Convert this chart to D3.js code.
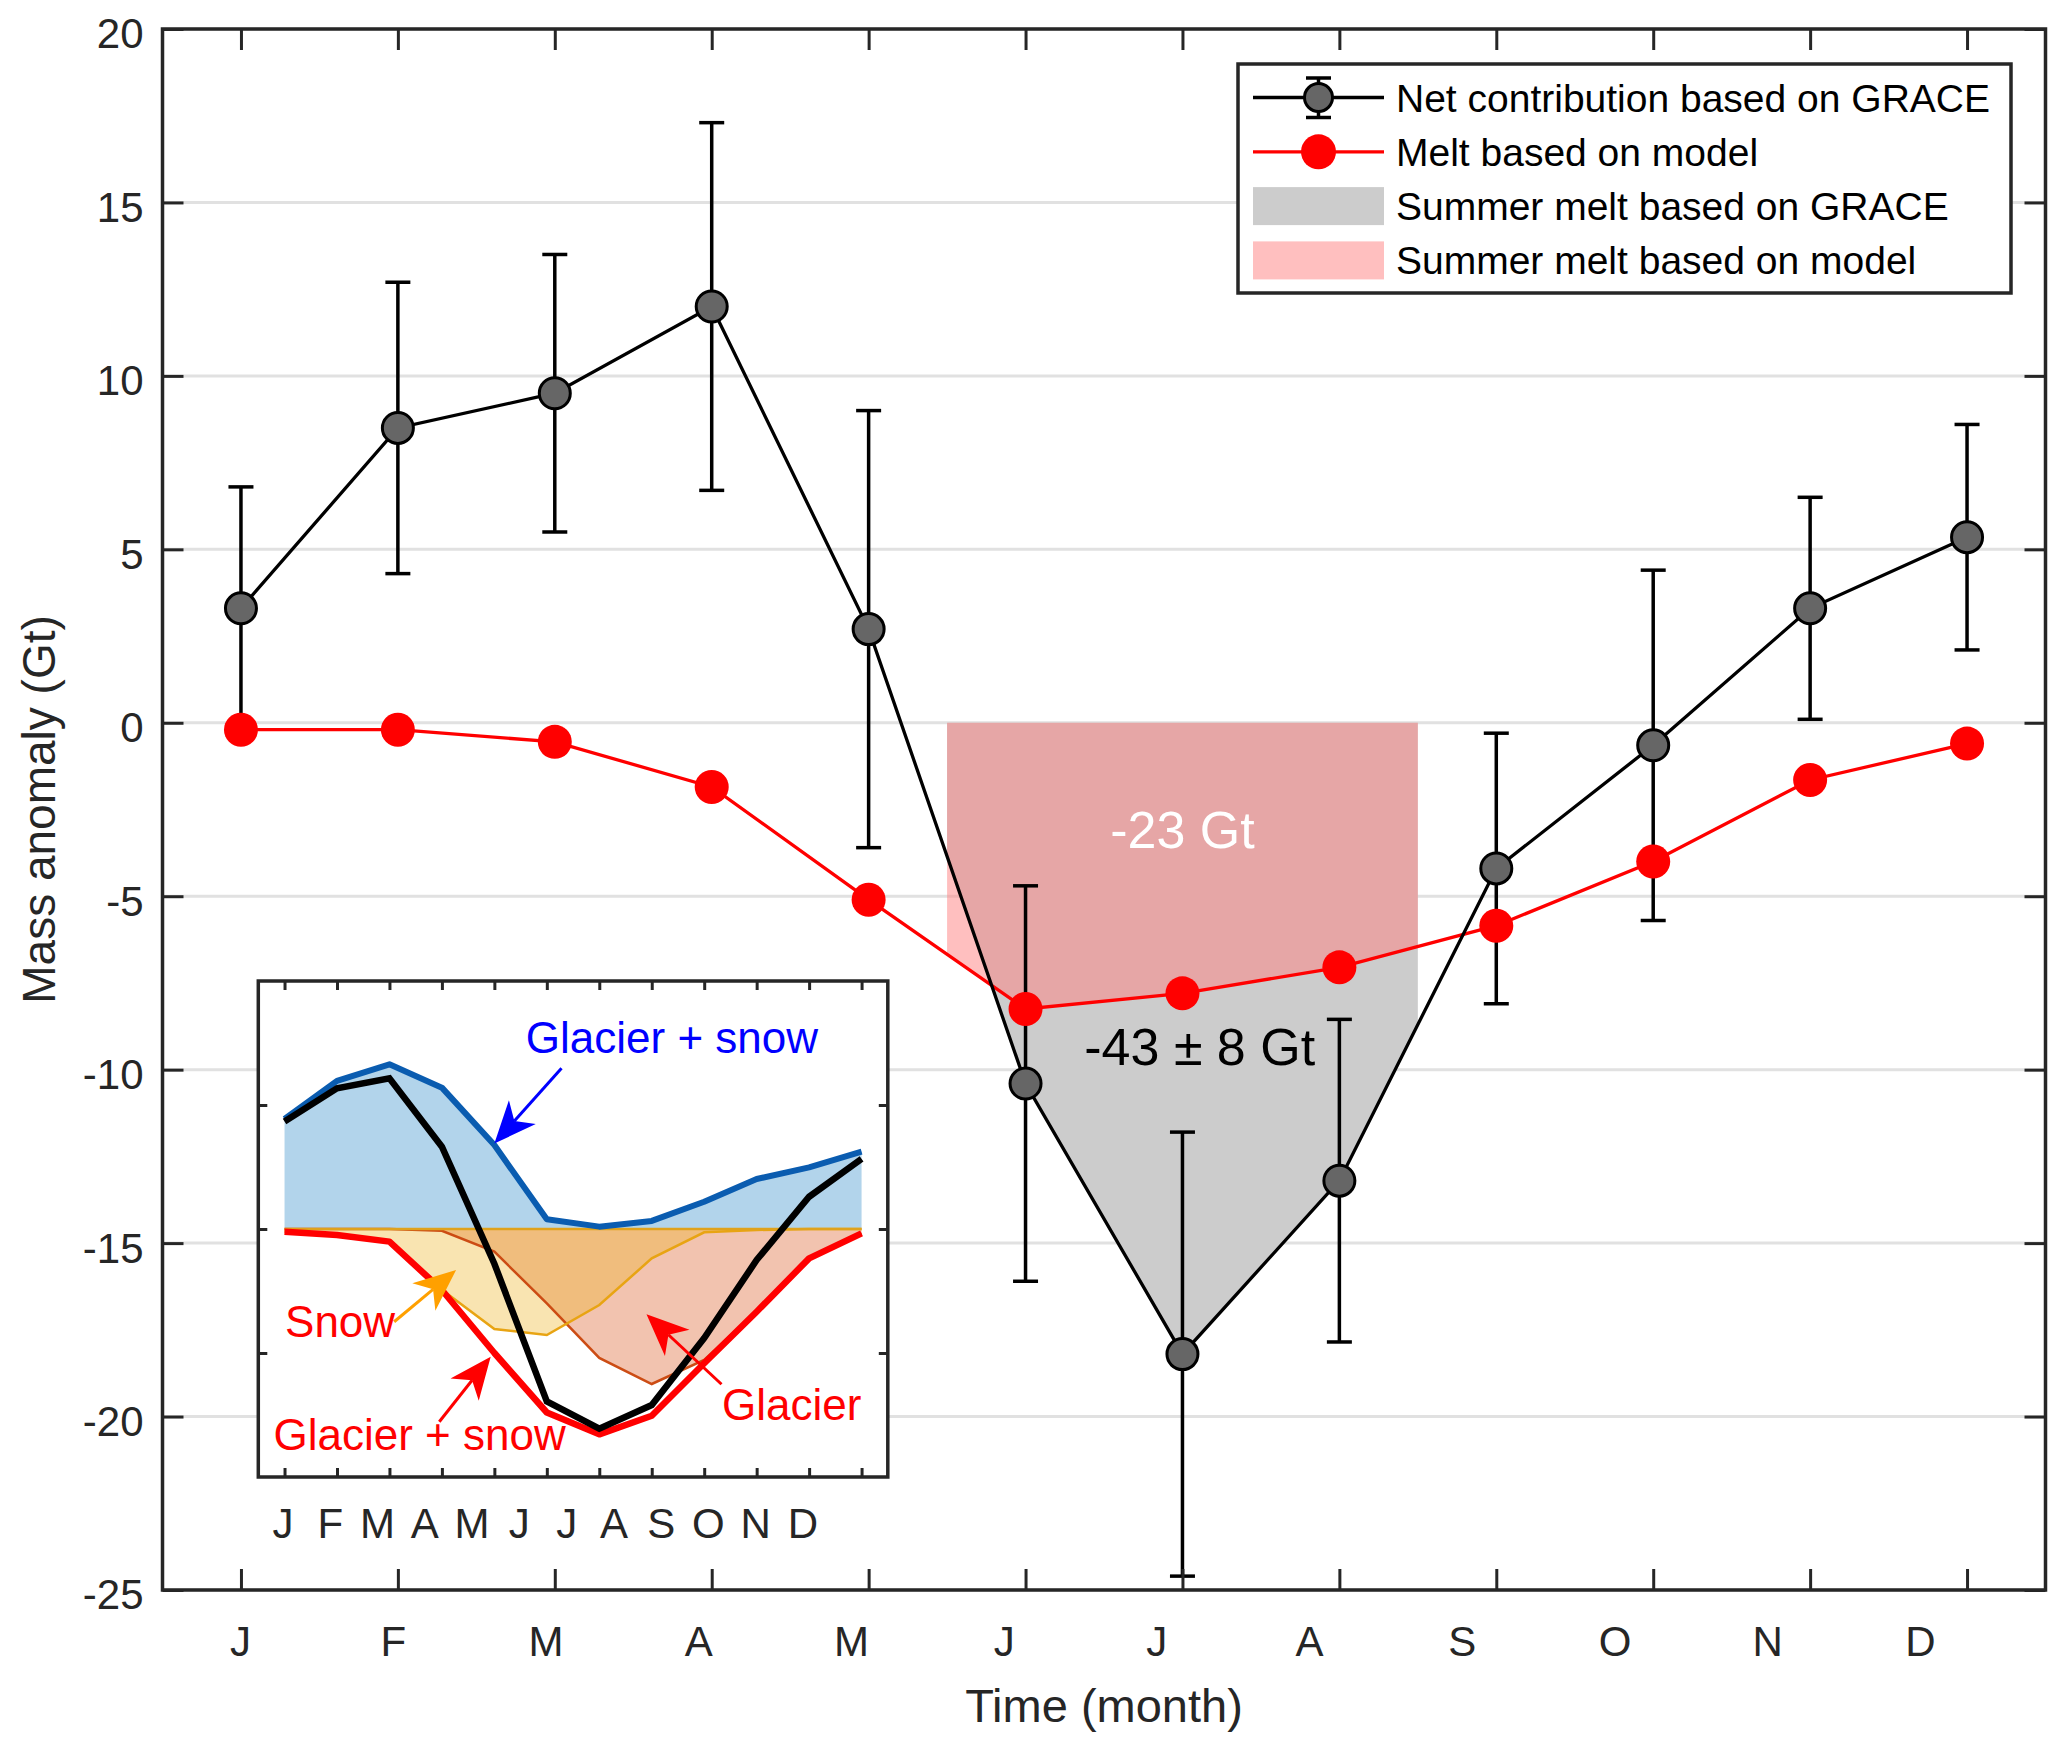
<!DOCTYPE html>
<html lang="en">
<head>
    <meta charset="UTF-8">
    <title>Monthly mass anomaly: GRACE vs model</title>
    <script src="https://d3js.org/d3.v7.min.js"></script>
    <style>
        body {
            margin: 0;
            padding: 0;
            background: white;
        }
        svg text {
            font-family: "Liberation Sans", Arial, Helvetica, sans-serif;
        }
    </style>
</head>
<body>
<div id="chart"></div>
<script>
// ---- data ----
const months = ["J", "F", "M", "A", "M", "J", "J", "A", "S", "O", "N", "D"]
const graceNet = [3.3, 8.5, 9.5, 12.0, 2.7, -10.4, -18.2, -13.2, -4.2, -0.65, 3.3, 5.35]
const graceErr = [3.5, 4.2, 4.0, 5.3, 6.3, 5.7, 6.4, 4.65, 3.9, 5.05, 3.2, 3.25]
const modelMelt = [-0.2, -0.2, -0.55, -1.85, -5.1, -8.25, -7.8, -7.05, -5.85, -4.0, -1.65, -0.6]
const yTicks = [20, 15, 10, 5, 0, -5, -10, -15, -20, -25]
const summerWindow = [5.5, 8.5]
const legendLabels = ["Net contribution based on GRACE", "Melt based on model",
    "Summer melt based on GRACE", "Summer melt based on model"]

// inset (schematic, arbitrary units)
const insetAccum = [8.87, 11.94, 13.28, 11.4, 6.77, 0.78, 0.19, 0.65, 2.2, 4.03, 4.97, 6.24]
const insetNet = [8.66, 11.35, 12.15, 6.64, -2.8, -13.9, -16.1, -14.2, -8.8, -2.5, 2.6, 5.65]
const insetTotalMelt = [-0.22, -0.48, -1.02, -4.92, -10.0, -14.8, -16.56, -15.06, -10.83, -6.67, -2.37, -0.35]
const insetSnowMelt = [-0.2, -0.45, -1.0, -4.9, -8.06, -8.55, -6.13, -2.37, -0.27, -0.08, 0, 0]
const insetGlacierMelt = [0, 0, 0, -0.15, -1.83, -6.0, -10.4, -12.5, -10.56, -6.6, -2.37, -0.35]
const insetYTicks = [-10, 0, 10]

// annotations: [text, month, value, colour]
const mainNotes = [["-23 Gt", 7, -3.6, "white"], ["-43 \u00b1 8 Gt", 7.11, -9.86, "black"]]
const insetNotes = [["Glacier + snow", 5.6, 14.2, "#0000ff"], ["Snow", 1.01, -8.69, "#ff0000"],
    ["Glacier + snow", 0.79, -17.8, "#ff0000"], ["Glacier", 9.34, -15.4, "#ff0000"]]
// arrows: [tailMonth, tailValue, tipMonth, tipValue, colour]
const insetArrows = [[6.28, 12.96, 5.0, 6.9, "#0000ff"], [3.09, -7.48, 4.27, -3.31, "#ffa000"],
    [3.95, -15.54, 4.93, -10.3, "#ff0000"], [9.33, -12.52, 7.9, -6.88, "#ff0000"]]

// ---- dimensions ----
const width = 2067, height = 1745
const plot = { left: 162.5, right: 2045.5, top: 29, bottom: 1590 }
const inset = { left: 258.3, right: 887.8, top: 981, bottom: 1477 }
const axisColor = "#262626"
const monthNums = months.map((d, i) => i + 1)

const svg = d3.select("#chart").append("svg")
    .attr("width", width)
    .attr("height", height)
svg.append("rect").attr("width", width).attr("height", height).attr("fill", "white")

// ---- scales ----
const x = d3.scaleLinear().domain([0.5, 12.5]).range([plot.left, plot.right])
const xLabel = d3.scaleLinear().domain([1, 12]).range([240, 1920])
const y = d3.scaleLinear().domain([-25, 20]).range([plot.bottom, plot.top])

// grid
svg.append("g").selectAll("line")
    .data(yTicks)
    .join("line")
    .attr("x1", plot.left).attr("x2", plot.right)
    .attr("y1", d => y(d)).attr("y2", d => y(d))
    .attr("stroke", "#e1e1e1")
    .attr("stroke-width", 3)

// summer shading (clipped to mid-May .. mid-Aug)
svg.append("clipPath").attr("id", "summerClip")
    .append("rect")
    .attr("x", x(summerWindow[0])).attr("width", x(summerWindow[1]) - x(summerWindow[0]))
    .attr("y", plot.top).attr("height", plot.bottom - plot.top)

const shadeArea = values => d3.area()
    .x((d, i) => x(i + 1))
    .y0(y(0))
    .y1((d, i) => y(values[i]))(values)

const shade = svg.append("g").attr("clip-path", "url(#summerClip)")
shade.append("path").attr("d", shadeArea(graceNet)).attr("fill", "#cccccc")
shade.append("path").attr("d", shadeArea(modelMelt)).attr("fill", "rgb(255,128,128)").attr("fill-opacity", 0.5)

// annotation text in the shading
svg.append("g").selectAll("text")
    .data(mainNotes)
    .join("text")
    .attr("x", d => x(d[1]))
    .attr("y", d => y(d[2]))
    .attr("text-anchor", "middle")
    .attr("font-size", 52)
    .attr("fill", d => d[3])
    .text(d => d[0])

// ---- series ----
const lineGen = values => d3.line().x((d, i) => x(i + 1)).y((d, i) => y(values[i]))(values)

svg.append("path").attr("d", lineGen(modelMelt))
    .attr("fill", "none").attr("stroke", "#ff0000").attr("stroke-width", 3.3)

svg.append("path").attr("d", lineGen(graceNet))
    .attr("fill", "none").attr("stroke", "#000").attr("stroke-width", 3.3)

// error bars
const errG = svg.append("g").attr("stroke", "#000").attr("stroke-width", 3.5)
monthNums.forEach((m, i) => {
    const lo = graceNet[i] - graceErr[i], hi = graceNet[i] + graceErr[i]
    errG.append("line").attr("x1", x(m)).attr("x2", x(m)).attr("y1", y(lo)).attr("y2", y(hi))
    errG.append("line").attr("x1", x(m) - 12.5).attr("x2", x(m) + 12.5).attr("y1", y(lo)).attr("y2", y(lo))
    errG.append("line").attr("x1", x(m) - 12.5).attr("x2", x(m) + 12.5).attr("y1", y(hi)).attr("y2", y(hi))
})

svg.append("g").selectAll("circle")
    .data(modelMelt)
    .join("circle")
    .attr("cx", (d, i) => x(i + 1))
    .attr("cy", d => y(d))
    .attr("r", 17)
    .attr("fill", "#ff0000")

svg.append("g").selectAll("circle")
    .data(graceNet)
    .join("circle")
    .attr("cx", (d, i) => x(i + 1))
    .attr("cy", d => y(d))
    .attr("r", 15.5)
    .attr("fill", "#666666")
    .attr("stroke", "#000")
    .attr("stroke-width", 3)

// ---- axes ----
const styleAxis = g => {
    g.select(".domain").remove()
    g.selectAll(".tick line").attr("stroke", axisColor).attr("stroke-width", 3)
    g.selectAll(".tick text").attr("fill", axisColor).attr("font-size", 42)
}

svg.append("g").attr("transform", `translate(0,${plot.bottom})`)
    .call(d3.axisBottom(x).tickValues(monthNums).tickSize(-21).tickFormat(""))
    .call(styleAxis)
svg.append("g").attr("transform", `translate(0,${plot.top})`)
    .call(d3.axisTop(x).tickValues(monthNums).tickSize(-21).tickFormat(""))
    .call(styleAxis)
svg.append("g").attr("transform", `translate(${plot.right},0)`)
    .call(d3.axisRight(y).tickValues(yTicks).tickSize(-21).tickFormat(""))
    .call(styleAxis)
svg.append("g").attr("transform", `translate(${plot.left},0)`)
    .call(d3.axisLeft(y).tickValues(yTicks).tickSize(-21).tickPadding(19).tickFormat(d => String(d)))
    .call(styleAxis)
    .call(g => g.selectAll(".tick text").attr("dy", "0.45em"))
svg.append("g").attr("transform", `translate(0,${plot.bottom})`)
    .call(d3.axisBottom(xLabel).tickValues(monthNums).tickSize(0).tickPadding(36)
        .tickFormat(m => months[m - 1]))
    .call(styleAxis)

svg.append("rect")
    .attr("x", plot.left).attr("y", plot.top)
    .attr("width", plot.right - plot.left).attr("height", plot.bottom - plot.top)
    .attr("fill", "none").attr("stroke", axisColor).attr("stroke-width", 3.5)

svg.append("text")
    .attr("x", (plot.left + plot.right) / 2).attr("y", 1722)
    .attr("text-anchor", "middle").attr("font-size", 47).attr("fill", axisColor)
    .text("Time (month)")
svg.append("text")
    .attr("transform", `translate(55,${(plot.top + plot.bottom) / 2}) rotate(-90)`)
    .attr("text-anchor", "middle").attr("font-size", 46).attr("fill", axisColor)
    .text("Mass anomaly (Gt)")

// ---- legend ----
const leg = svg.append("g")
leg.append("rect").attr("x", 1238).attr("y", 64).attr("width", 773).attr("height", 229)
    .attr("fill", "white").attr("stroke", axisColor).attr("stroke-width", 3.5)
const rowY = i => 97.5 + i * 54.3
leg.append("line").attr("x1", 1253).attr("x2", 1384).attr("y1", rowY(0)).attr("y2", rowY(0))
    .attr("stroke", "#000").attr("stroke-width", 3.3)
leg.append("line").attr("x1", 1318.5).attr("x2", 1318.5).attr("y1", 78).attr("y2", 117.5)
    .attr("stroke", "#000").attr("stroke-width", 3.5)
leg.selectAll(".cap").data([78, 117.5]).join("line")
    .attr("x1", 1306).attr("x2", 1331).attr("y1", d => d).attr("y2", d => d)
    .attr("stroke", "#000").attr("stroke-width", 3.5)
leg.append("circle").attr("cx", 1318.5).attr("cy", rowY(0)).attr("r", 14)
    .attr("fill", "#666666").attr("stroke", "#000").attr("stroke-width", 3)
leg.append("line").attr("x1", 1253).attr("x2", 1384).attr("y1", rowY(1)).attr("y2", rowY(1))
    .attr("stroke", "#ff0000").attr("stroke-width", 3.3)
leg.append("circle").attr("cx", 1318.5).attr("cy", rowY(1)).attr("r", 17.5).attr("fill", "#ff0000")
leg.append("rect").attr("x", 1253).attr("y", rowY(2) - 19).attr("width", 131).attr("height", 38)
    .attr("fill", "#cccccc")
leg.append("rect").attr("x", 1253).attr("y", rowY(3) - 19).attr("width", 131).attr("height", 38)
    .attr("fill", "#ffbfbf")
leg.selectAll("text").data(legendLabels).join("text")
    .attr("x", 1396).attr("y", (d, i) => rowY(i) + 14)
    .attr("font-size", 39).attr("fill", "#000")
    .text(d => d)

// ---- inset ----
const ix = d3.scaleLinear().domain([0.5, 12.5]).range([inset.left, inset.right])
const iy = d3.scaleLinear().domain([-20, 20]).range([inset.bottom, inset.top])
const ins = svg.append("g")
ins.append("rect").attr("x", inset.left).attr("y", inset.top)
    .attr("width", inset.right - inset.left).attr("height", inset.bottom - inset.top)
    .attr("fill", "white")

const insetArea = values => d3.area().x((d, i) => ix(i + 1)).y0(iy(0)).y1(d => iy(d))(values)
const insetLine = values => d3.line().x((d, i) => ix(i + 1)).y(d => iy(d))(values)

ins.append("path").attr("d", insetArea(insetAccum)).attr("fill", "#0072bd").attr("fill-opacity", 0.3)
ins.append("path").attr("d", insetArea(insetGlacierMelt)).attr("fill", "#d95319").attr("fill-opacity", 0.35)
ins.append("path").attr("d", insetArea(insetSnowMelt)).attr("fill", "#edb120").attr("fill-opacity", 0.35)
ins.append("path").attr("d", insetLine(insetGlacierMelt)).attr("fill", "none")
    .attr("stroke", "#cc4c14").attr("stroke-width", 2.5)
ins.append("path").attr("d", insetLine(insetSnowMelt)).attr("fill", "none")
    .attr("stroke", "#e8a413").attr("stroke-width", 2.5)
ins.append("line").attr("x1", ix(1)).attr("x2", ix(12)).attr("y1", iy(0)).attr("y2", iy(0))
    .attr("stroke", "#e0a21c").attr("stroke-width", 2.5)
ins.append("path").attr("d", insetLine(insetAccum)).attr("fill", "none")
    .attr("stroke", "#0a5cb0").attr("stroke-width", 6).attr("stroke-linejoin", "round")
ins.append("path").attr("d", insetLine(insetTotalMelt)).attr("fill", "none")
    .attr("stroke", "#ff0000").attr("stroke-width", 6.5).attr("stroke-linejoin", "round")
ins.append("path").attr("d", insetLine(insetNet)).attr("fill", "none")
    .attr("stroke", "#000").attr("stroke-width", 6.5)

// arrows
insetArrows.forEach(([tm, tv, hm, hv, col]) => {
    const x0 = ix(tm), y0 = iy(tv), x1 = ix(hm), y1 = iy(hv)
    const len = Math.hypot(x1 - x0, y1 - y0)
    const ux = (x1 - x0) / len, uy = (y1 - y0) / len
    const nx = -uy, ny = ux
    const L = 42, W = 18, N = 12
    ins.append("line").attr("x1", x0).attr("y1", y0)
        .attr("x2", x1 - (L - N) * ux).attr("y2", y1 - (L - N) * uy)
        .attr("stroke", col).attr("stroke-width", 3)
    ins.append("path")
        .attr("d", `M${x1},${y1}L${x1 - L * ux + W * nx},${y1 - L * uy + W * ny}` +
            `L${x1 - (L - N) * ux},${y1 - (L - N) * uy}L${x1 - L * ux - W * nx},${y1 - L * uy - W * ny}Z`)
        .attr("fill", col)
})

ins.selectAll(".note").data(insetNotes).join("text")
    .attr("x", d => ix(d[1])).attr("y", d => iy(d[2]))
    .attr("font-size", 44).attr("fill", d => d[3])
    .text(d => d[0])

// inset ticks and frame
ins.append("g").attr("transform", `translate(0,${inset.bottom})`)
    .call(d3.axisBottom(ix).tickValues(monthNums).tickSize(-9).tickFormat(""))
    .call(styleAxis)
ins.append("g").attr("transform", `translate(0,${inset.top})`)
    .call(d3.axisTop(ix).tickValues(monthNums).tickSize(-9).tickFormat(""))
    .call(styleAxis)
ins.append("g").attr("transform", `translate(${inset.left},0)`)
    .call(d3.axisLeft(iy).tickValues(insetYTicks).tickSize(-9).tickFormat(""))
    .call(styleAxis)
ins.append("g").attr("transform", `translate(${inset.right},0)`)
    .call(d3.axisRight(iy).tickValues(insetYTicks).tickSize(-9).tickFormat(""))
    .call(styleAxis)
ins.append("rect").attr("x", inset.left).attr("y", inset.top)
    .attr("width", inset.right - inset.left).attr("height", inset.bottom - inset.top)
    .attr("fill", "none").attr("stroke", axisColor).attr("stroke-width", 3.5)

const insetLabel = d3.scaleLinear().domain([1, 12]).range([283, 803])
ins.append("g").selectAll("text").data(monthNums).join("text")
    .attr("x", m => insetLabel(m)).attr("y", 1538)
    .attr("text-anchor", "middle").attr("font-size", 42).attr("fill", axisColor)
    .text(m => months[m - 1])
</script>
</body>
</html>
